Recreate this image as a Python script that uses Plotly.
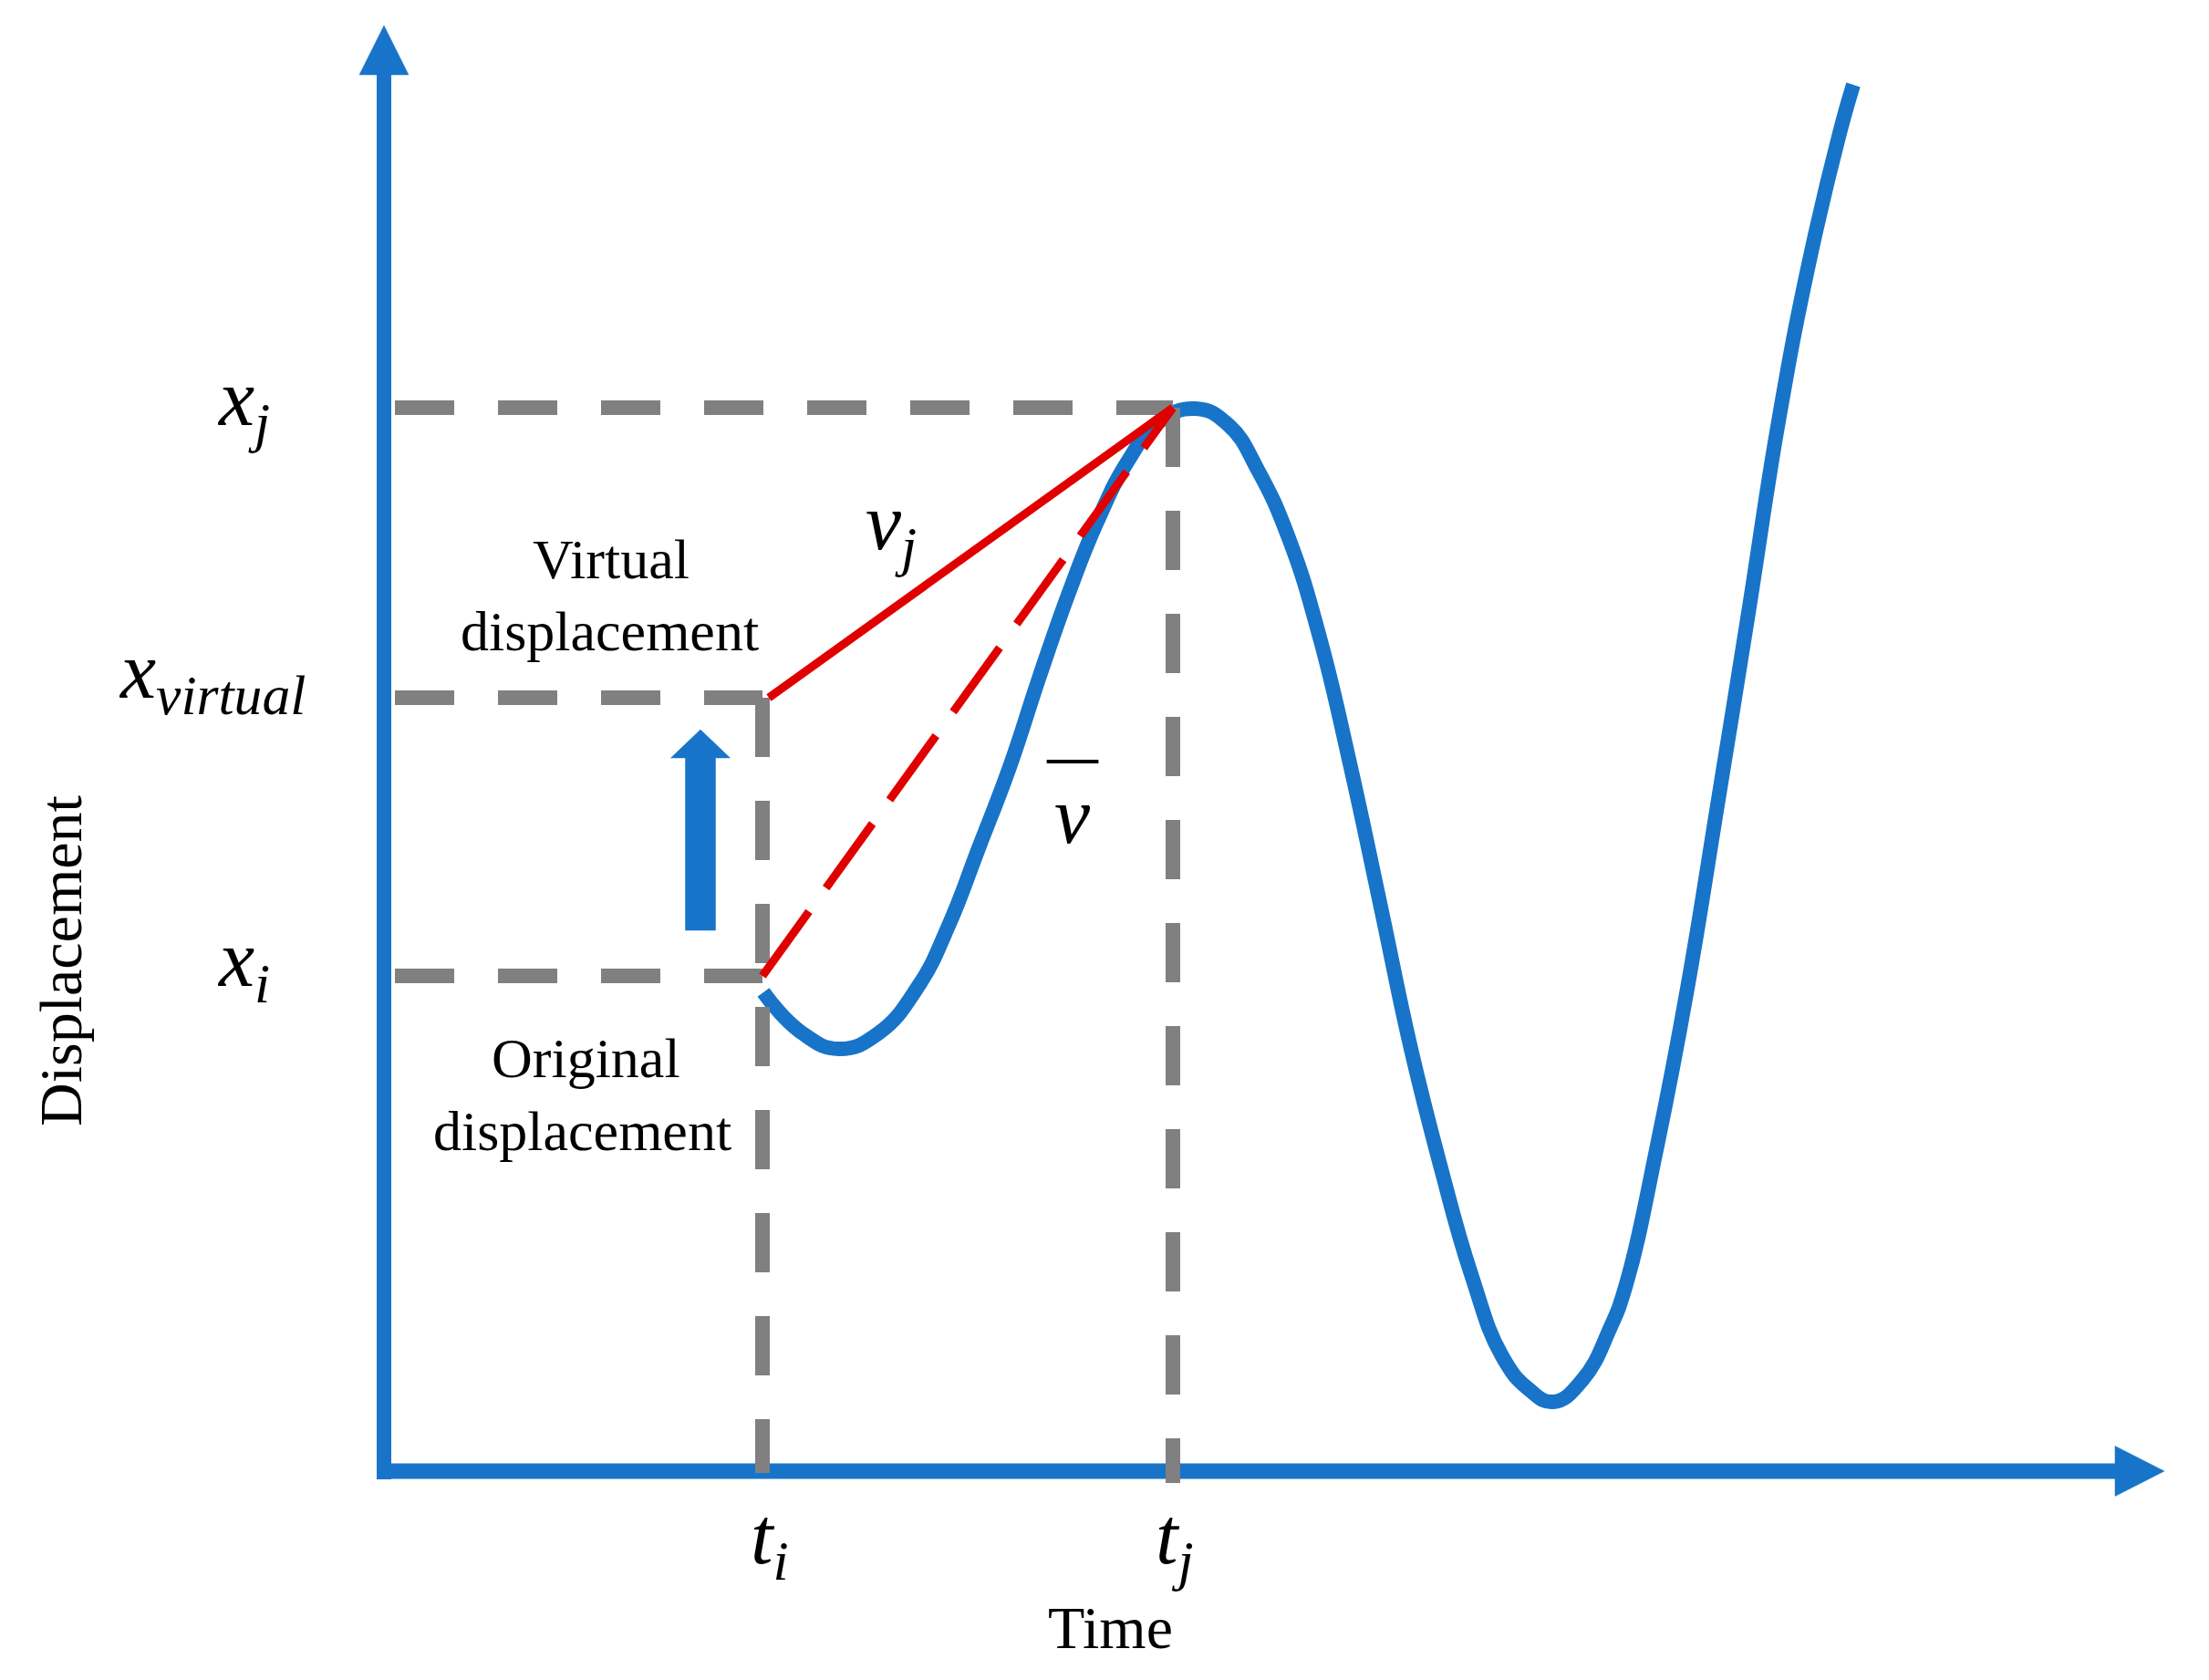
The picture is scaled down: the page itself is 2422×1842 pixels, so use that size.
import plotly.graph_objects as go

# key instants and displacements (axis units, origin at the axis corner)
t_i = 4.15
t_j = 8.65
x_i = 5.43
x_virtual = 8.48
x_j = 11.66

# displacement curve
curve_t = [4.16, 4.59, 4.99, 5.42, 5.86, 6.19, 6.52, 6.86, 7.19, 7.52, 7.82, 8.16, 8.49,
           8.90, 9.26, 9.59, 9.92, 10.26, 10.59, 10.92, 11.26, 11.59, 11.92, 12.26,
           12.55, 12.82, 13.14, 13.44, 13.62, 13.96, 14.29, 14.62, 14.96, 15.29, 15.62,
           15.96, 16.11]
curve_x = [5.25, 4.80, 4.63, 4.80, 5.32, 5.98, 6.83, 7.72, 8.72, 9.66, 10.41, 11.08, 11.50,
           11.65, 11.47, 10.96, 10.23, 9.14, 7.76, 6.23, 4.63, 3.32, 2.16, 1.26,
           0.90, 0.76, 1.00, 1.56, 2.05, 3.57, 5.29, 7.30, 9.41, 11.51, 13.23,
           14.67, 15.20]

t_end = 19.52   # x-axis arrow tip
x_end = 15.85   # y-axis arrow tip

BLUE = "#1874C8"
GRAY = "#808080"
RED = "#E00000"
FONT = "Liberation Serif"

fig = go.Figure()


def line(xs, ys, color, width, dash=None):
    fig.add_trace(go.Scatter(x=xs, y=ys, mode="lines", hoverinfo="skip",
                             line=dict(color=color, width=width, dash=dash)))


def poly(xs, ys, color):
    fig.add_trace(go.Scatter(x=xs + xs[:1], y=ys + ys[:1], mode="lines", fill="toself",
                             fillcolor=color, line=dict(color=color, width=0.5),
                             hoverinfo="skip"))


# axes with arrow heads
head = 0.54
line([0, 0], [-0.09, x_end - head], BLUE, 16)
poly([0, -0.27, 0.27], [x_end, x_end - head, x_end - head], BLUE)
line([-0.08, t_end - head], [0, 0], BLUE, 17)
poly([t_end, t_end - head, t_end - head], [0, 0.275, -0.275], BLUE)

# displacement curve
fig.add_trace(go.Scatter(x=curve_t, y=curve_x, mode="lines", hoverinfo="skip",
                         line=dict(color=BLUE, width=16, shape="spline", smoothing=1.3)))

# gray guide lines
gdash = "65px,48px"
line([0.12, t_j], [x_j, x_j], GRAY, 16, gdash)
line([0.12, t_i], [x_virtual, x_virtual], GRAY, 16, gdash)
line([0.12, t_i], [x_i, x_i], GRAY, 16, gdash)
line([t_i, t_i], [x_virtual, -0.02], GRAY, 16, gdash)
line([t_j, t_j], [x_j, -0.13], GRAY, 16, gdash)

# velocities
line([t_i + 0.07, t_j], [x_virtual, x_j], RED, 9)
line([t_i, t_j], [x_i, x_j], RED, 9, "87px,32px")

# block arrow: original -> virtual displacement
ac, sw, hw = 3.47, 0.165, 0.325
a0, a1, a2 = 5.93, 7.82, 8.13
poly([ac - sw, ac + sw, ac + sw, ac + hw, ac, ac - hw, ac - sw],
     [a0, a0, a1, a1, a2, a1, a1], BLUE)


def label(x, y, text, size, **kw):
    fig.add_annotation(x=x, y=y, text=text, showarrow=False,
                       font=dict(family=FONT, size=size, color="black"), **kw)


label(-1.54, x_j + 0.05, "<i>x</i><sub><i>j</i></sub>", 88)
label(-1.89, x_virtual + 0.24, "<i>x</i><sub><i>virtual</i></sub>", 88)
label(-1.54, x_i + 0.13, "<i>x</i><sub><i>i</i></sub>", 88)
label(t_i + 0.08, -0.77, "<i>t</i><sub><i>i</i></sub>", 88)
label(t_j + 0.02, -0.77, "<i>t</i><sub><i>j</i></sub>", 88)
label(5.56, 10.35, "<i>v</i><sub><i>j</i></sub>", 88)
label(7.55, 7.19, "<i>v</i>", 88)
label(7.55, 7.84, "<b>\u2014</b>", 56)

label(2.49, 10.0, "Virtual", 62)
label(2.47, 9.21, "displacement", 62)
label(2.21, 4.53, "Original", 62)
label(2.17, 3.73, "displacement", 62)

label(7.96, -1.71, "Time", 66)
label(-3.55, 5.59, "Displacement", 66, textangle=-90)

# page body has an 8px margin, so the figure is drawn slightly smaller and the
# ranges are shifted to keep the axis corner where it belongs
fig.update_layout(
    width=2406, height=1826,
    margin=dict(l=0, r=0, t=0, b=0),
    paper_bgcolor="white", plot_bgcolor="white",
    showlegend=False,
    xaxis=dict(range=[-4.13, 19.93], visible=False),
    yaxis=dict(range=[-2.21, 16.05], visible=False),
)

fig.write_html("out.html")
